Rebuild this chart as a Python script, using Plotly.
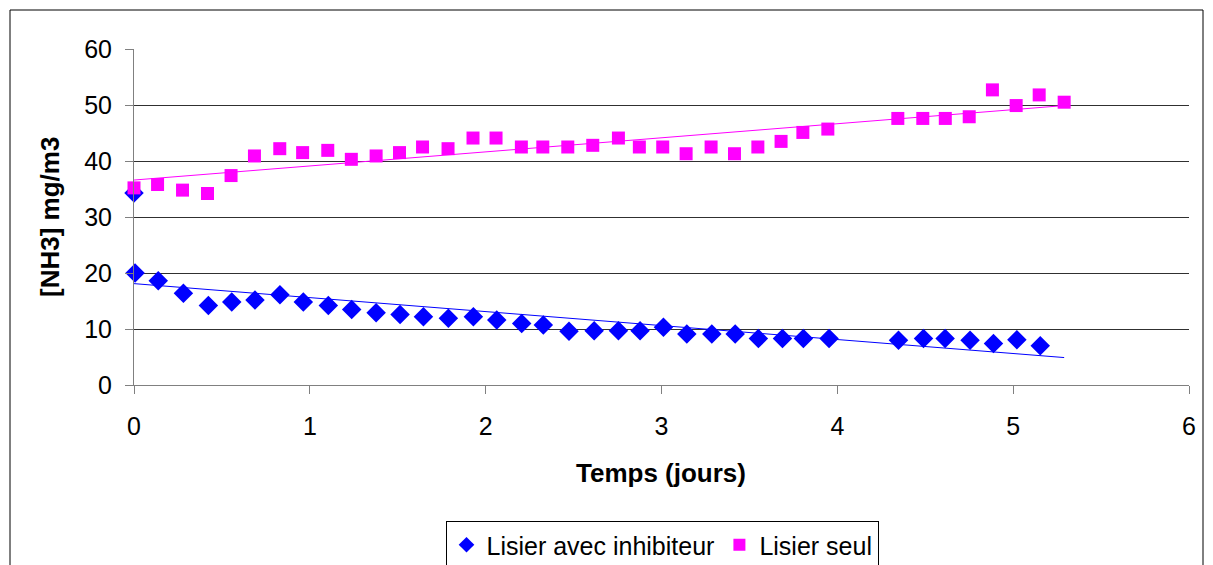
import plotly.graph_objects as go

# Lisier avec inhibiteur (days, mg/m3)
inhib_days = [0.0, 0.006, 0.138, 0.281, 0.423, 0.556, 0.688, 0.830, 0.963, 1.105,
              1.238, 1.377, 1.513, 1.646, 1.788, 1.930, 2.063, 2.205, 2.328, 2.474,
              2.617, 2.755, 2.878, 3.011, 3.144, 3.286, 3.419, 3.551, 3.688, 3.807,
              3.953, 4.348, 4.490, 4.613, 4.755, 4.888, 5.021, 5.154]
inhib_nh3 = [34.3, 20.0, 18.6, 16.4, 14.2, 14.8, 15.2, 16.1, 14.8, 14.2,
             13.5, 12.9, 12.6, 12.2, 11.9, 12.2, 11.6, 11.0, 10.7, 9.6,
             9.7, 9.7, 9.7, 10.3, 9.1, 9.1, 9.1, 8.3, 8.3, 8.3,
             8.3, 8.0, 8.3, 8.3, 8.0, 7.4, 8.1, 7.0]

# Lisier seul (days, mg/m3)
seul_days = [0.0, 0.134, 0.276, 0.418, 0.552, 0.685, 0.829, 0.959, 1.102, 1.236,
             1.377, 1.510, 1.641, 1.786, 1.928, 2.059, 2.203, 2.325, 2.467, 2.609,
             2.755, 2.874, 3.007, 3.140, 3.282, 3.415, 3.548, 3.680, 3.804, 3.946,
             4.344, 4.486, 4.614, 4.750, 4.882, 5.017, 5.148, 5.290]
seul_nh3 = [35.2, 35.8, 34.8, 34.2, 37.4, 40.9, 42.2, 41.5, 41.9, 40.3,
            40.9, 41.5, 42.5, 42.2, 44.1, 44.1, 42.5, 42.5, 42.5, 42.8,
            44.1, 42.5, 42.5, 41.3, 42.5, 41.3, 42.5, 43.5, 45.1, 45.7,
            47.6, 47.6, 47.6, 47.9, 52.7, 49.9, 51.8, 50.5]

# Linear trend lines (end points)
trend_days = [0.0, 5.29]
inhib_trend = [18.1, 4.9]
seul_trend = [36.6, 49.9]

x_ticks = [0, 1, 2, 3, 4, 5, 6]
y_ticks = [0, 10, 20, 30, 40, 50, 60]

BLUE = "#0000FF"
PINK = "#FF00FF"
FONT = "Liberation Sans, Arial, sans-serif"
W, H = 1213, 565
ML, MR, MT, MB = 134, 24, 49, 180

fig = go.Figure()

fig.add_trace(go.Scatter(x=trend_days, y=inhib_trend, mode="lines",
                         line=dict(color=BLUE, width=1), showlegend=False,
                         hoverinfo="skip"))
fig.add_trace(go.Scatter(x=trend_days, y=seul_trend, mode="lines",
                         line=dict(color=PINK, width=1), showlegend=False,
                         hoverinfo="skip"))
fig.add_trace(go.Scatter(x=inhib_days, y=inhib_nh3, mode="markers",
                         name="Lisier avec inhibiteur",
                         marker=dict(symbol="diamond", size=15, color=BLUE,
                                     line=dict(width=0)),
                         cliponaxis=False))
fig.add_trace(go.Scatter(x=seul_days, y=seul_nh3, mode="markers",
                         name="Lisier seul",
                         marker=dict(symbol="square", size=13, color=PINK,
                                     line=dict(width=0)),
                         cliponaxis=False))

plot_w = W - ML - MR
plot_h = H - MT - MB


def px_x(px):
    return (px - ML) / plot_w


def px_y(py):
    return (H - MB - py) / plot_h


fig.update_layout(
    width=W, height=H,
    margin=dict(l=ML, r=MR, t=MT, b=MB, autoexpand=False),
    plot_bgcolor="white", paper_bgcolor="white",
    font=dict(family=FONT, size=25, color="black"),
    xaxis=dict(range=[0, 6], tickvals=x_ticks, ticks="outside", ticklen=8,
               tickcolor="#808080", showgrid=False, showline=True,
               linecolor="#808080", linewidth=1, zeroline=False,
               tickfont=dict(size=25), ticklabelstandoff=11),
    yaxis=dict(range=[0, 60], tickvals=y_ticks, ticks="outside", ticklen=8,
               tickcolor="#808080", showgrid=True, gridcolor="#303030",
               gridwidth=1, showline=True, linecolor="#808080", linewidth=1,
               zeroline=False, tickfont=dict(size=25), ticklabelstandoff=8),
    legend=dict(orientation="h", x=px_x(662), xanchor="center",
                y=px_y(521), yanchor="top", bordercolor="black", borderwidth=1,
                font=dict(size=25), itemsizing="constant"),
    annotations=[
        dict(text="<b>Temps (jours)</b>", xref="paper", yref="paper",
             x=px_x(661), y=px_y(473), xanchor="center", yanchor="middle",
             showarrow=False, font=dict(size=26)),
        dict(text="<b>[NH3] mg/m3</b>", xref="paper", yref="paper",
             x=px_x(50), y=px_y(217), xanchor="center", yanchor="middle",
             showarrow=False, textangle=-90, font=dict(size=26)),
    ],
    shapes=[dict(type="rect", xref="paper", yref="paper",
                 x0=px_x(10), x1=px_x(1203), y0=px_y(600), y1=px_y(10),
                 line=dict(color="black", width=1), layer="below")],
)

fig.write_html("out.html")
